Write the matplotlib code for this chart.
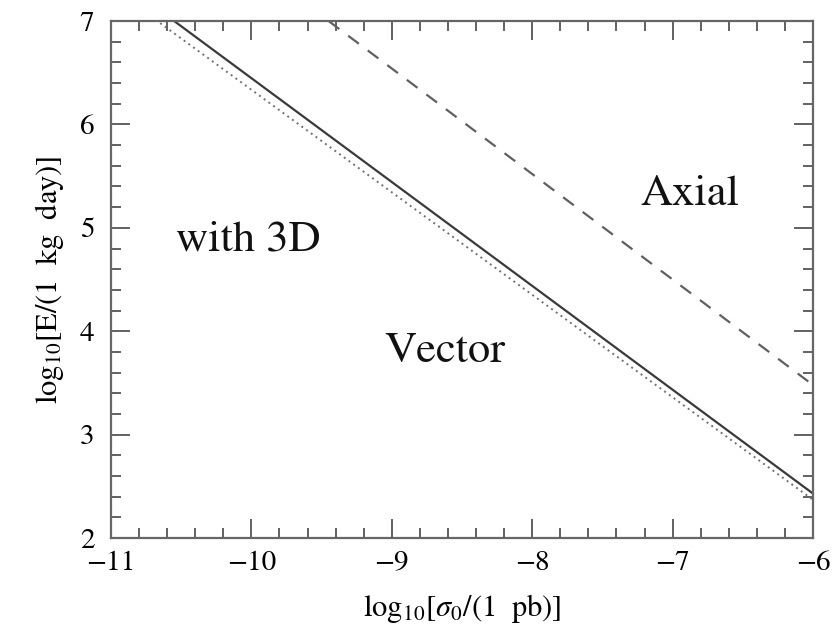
import numpy as np
import matplotlib.pyplot as plt
from matplotlib.ticker import MultipleLocator

plt.rcParams['font.family'] = 'STIXGeneral'
plt.rcParams['mathtext.fontset'] = 'stix'

## Data ==============================================
# straight lines in log-log space (end points)
solid_x = [-10.55, -6.0]
solid_y = [7.0, 2.43]
dotted_x = [-10.65, -6.0]
dotted_y = [6.98, 2.37]
dashed_x = [-9.45, -6.0]
dashed_y = [7.0, 3.48]

labels = ['with 3D', 'Axial', 'Vector']
label_x = [-10.54, -6.88, -8.62]
label_y = [4.88, 5.32, 3.80]
label_ha = ['left', 'center', 'center']

# Plot ==============================================
fig = plt.figure(figsize=(8.36, 6.38), dpi=100)
ax = fig.add_axes([0.1328, 0.1567, 0.8397, 0.8103])

ax.plot(solid_x, solid_y, color='#3a3a3a', lw=1.6, ls='-')
ax.plot(dotted_x, dotted_y, color='#707070', lw=1.4, ls=(0, (1, 2)))
ax.plot(dashed_x, dashed_y, color='#606060', lw=1.6, ls=(0, (6, 5)))

for t, x, y, ha in zip(labels, label_x, label_y, label_ha):
    ax.text(x, y, t, fontsize=32, ha=ha, va='center', color='#111111')

ax.set_xlim(-11, -6)
ax.set_ylim(2, 7)
ax.xaxis.set_major_locator(MultipleLocator(1))
ax.xaxis.set_minor_locator(MultipleLocator(0.2))
ax.yaxis.set_major_locator(MultipleLocator(1))
ax.yaxis.set_minor_locator(MultipleLocator(0.2))
ax.tick_params(which='both', direction='in', top=True, right=True,
               color='#555555', width=1.3, labelsize=21)
ax.tick_params(which='major', length=14)
ax.tick_params(which='minor', length=7)
ax.tick_params(axis='x', pad=9)
ax.tick_params(axis='y', pad=12)
for s in ax.spines.values():
    s.set_color('#666666')
    s.set_linewidth(1.6)

ax.set_xlabel(r'$\mathrm{log}_{10}[\sigma_0/(1\ \ \mathrm{pb})]$', fontsize=22, labelpad=12)
ax.set_ylabel(r'$\mathrm{log}_{10}[\mathrm{E}/(1\ \ \mathrm{kg}\ \ \mathrm{day})]$', fontsize=22, labelpad=10)

fig.savefig('out.png', dpi=100)
